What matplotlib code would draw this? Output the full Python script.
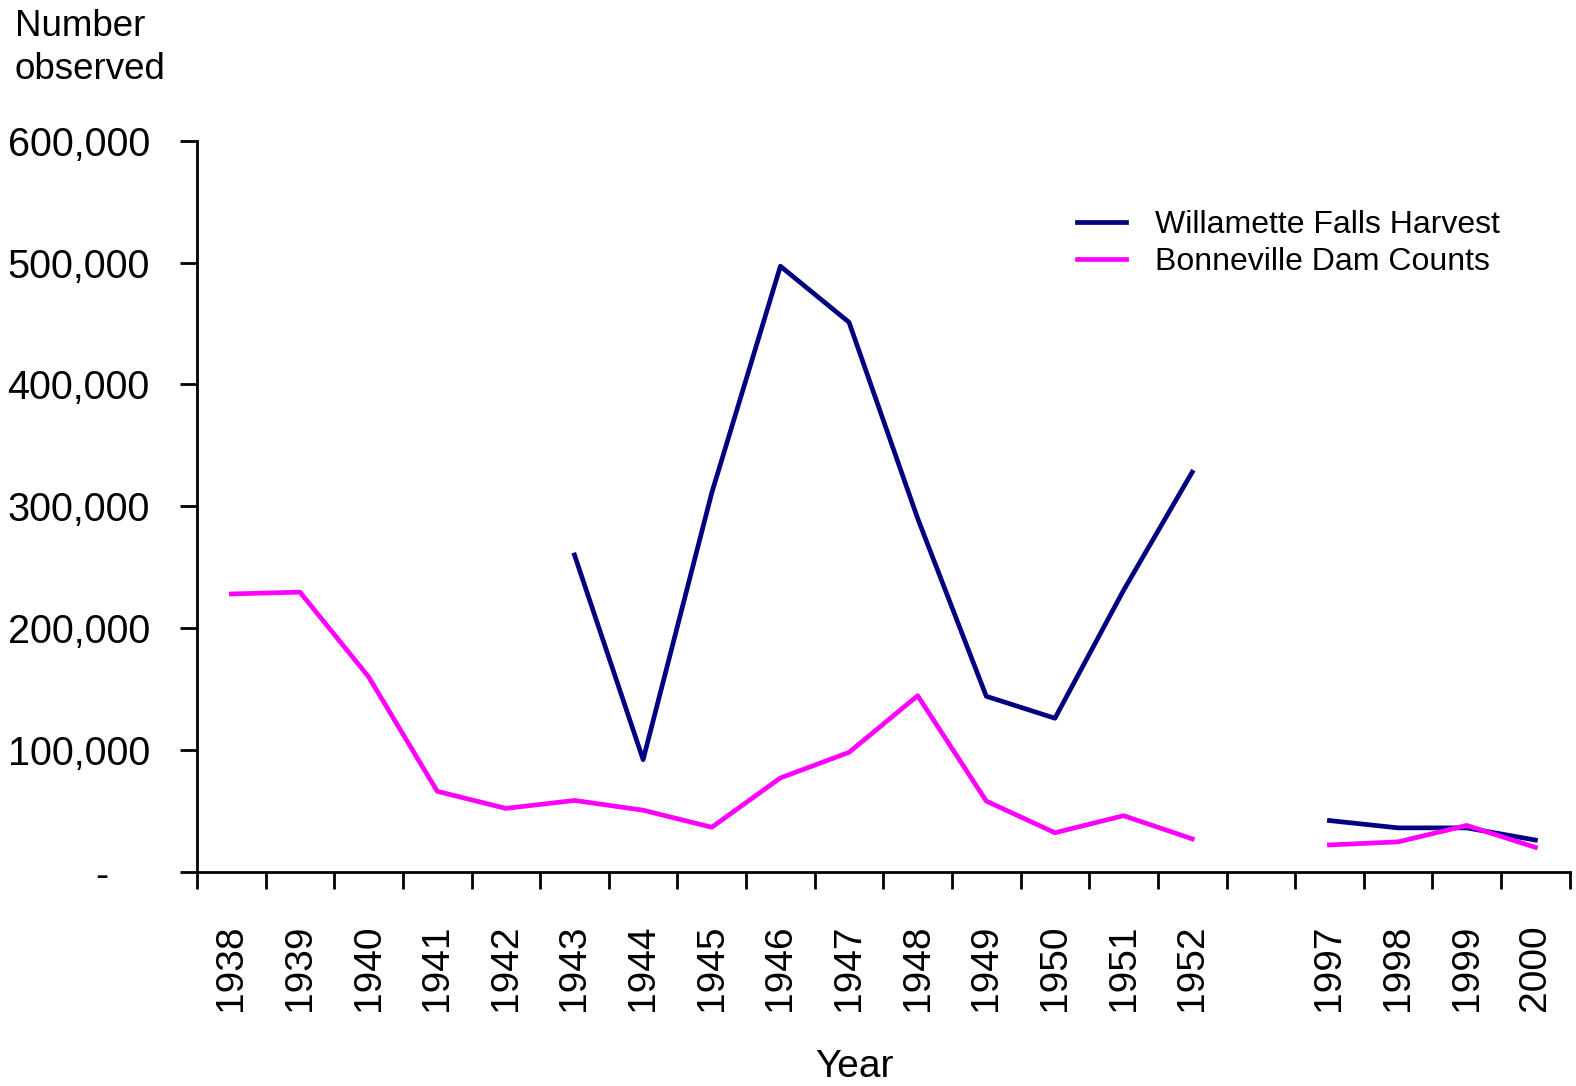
import numpy as np
import matplotlib
matplotlib.use('Agg')
import matplotlib.pyplot as plt
import matplotlib.transforms as mtransforms

plt.rcParams['font.family'] = ['Liberation Sans', 'DejaVu Sans']

# categories (blank slot between 1952 and 1997, as in the original sheet)
years = ['1938', '1939', '1940', '1941', '1942', '1943', '1944', '1945', '1946', '1947',
         '1948', '1949', '1950', '1951', '1952', '', '1997', '1998', '1999', '2000']

willamette = [np.nan, np.nan, np.nan, np.nan, np.nan, 260000, 92000, 311000, 497000, 451000,
              290000, 144000, 126000, 231000, 328000, np.nan, 42000, 36000, 36000, 26000]
bonneville = [228000, 229500, 160000, 66000, 52000, 58500, 50500, 36500, 77000, 98000,
              144500, 58000, 32000, 46000, 27000, np.nan, 22000, 24500, 38000, 20000]

y_ticks = [0, 100000, 200000, 300000, 400000, 500000, 600000]
y_labels = ['', '100,000', '200,000', '300,000', '400,000', '500,000', '600,000']

fig = plt.figure(figsize=(15.76, 10.86), dpi=100)
ax = fig.add_axes([0.125, 0.1973, 0.871, 0.6731])

x = np.arange(len(years))
ax.plot(x, willamette, color='#000080', lw=3.4, label='Willamette Falls Harvest')
ax.plot(x, bonneville, color='#FF00FF', lw=3.4, label='Bonneville Dam Counts')

ax.set_xlim(-0.5, len(years) - 0.5)
ax.set_ylim(0, 600000)

for s in ['top', 'right']:
    ax.spines[s].set_visible(False)
for s in ['left', 'bottom']:
    ax.spines[s].set_linewidth(2)

# y axis
ax.set_yticks(y_ticks)
ax.set_yticklabels(y_labels, fontsize=28.5)
ax.tick_params(axis='y', length=12, width=2, pad=22)
# zero shown as a dash (accounting format)
tr = mtransforms.offset_copy(ax.transAxes, fig=fig, x=-95, y=-4, units='dots')
ax.text(0, 0, '-', transform=tr, fontsize=28.5, ha='center', va='center')

# x axis: tick marks between categories, labels at centres
ax.set_xticks(x)
ax.set_xticklabels(years, rotation=90, fontsize=28)
ax.tick_params(axis='x', which='major', length=0, pad=38)
ax.set_xticks(np.arange(-0.5, len(years)), minor=True)
ax.tick_params(axis='x', which='minor', length=12, width=2)

ax.set_xlabel('Year', fontsize=28)
ax.xaxis.set_label_coords(0.479, -0.243)
fig.text(0.0095, 0.992, 'Number\nobserved', fontsize=26.5, ha='left', va='top', linespacing=1.3)

ax.legend(loc='upper left', bbox_to_anchor=(0.62, 0.945), frameon=False, fontsize=23,
          handlelength=1.55, handletextpad=0.9, labelspacing=0.22)

fig.savefig('out.png', dpi=100)
